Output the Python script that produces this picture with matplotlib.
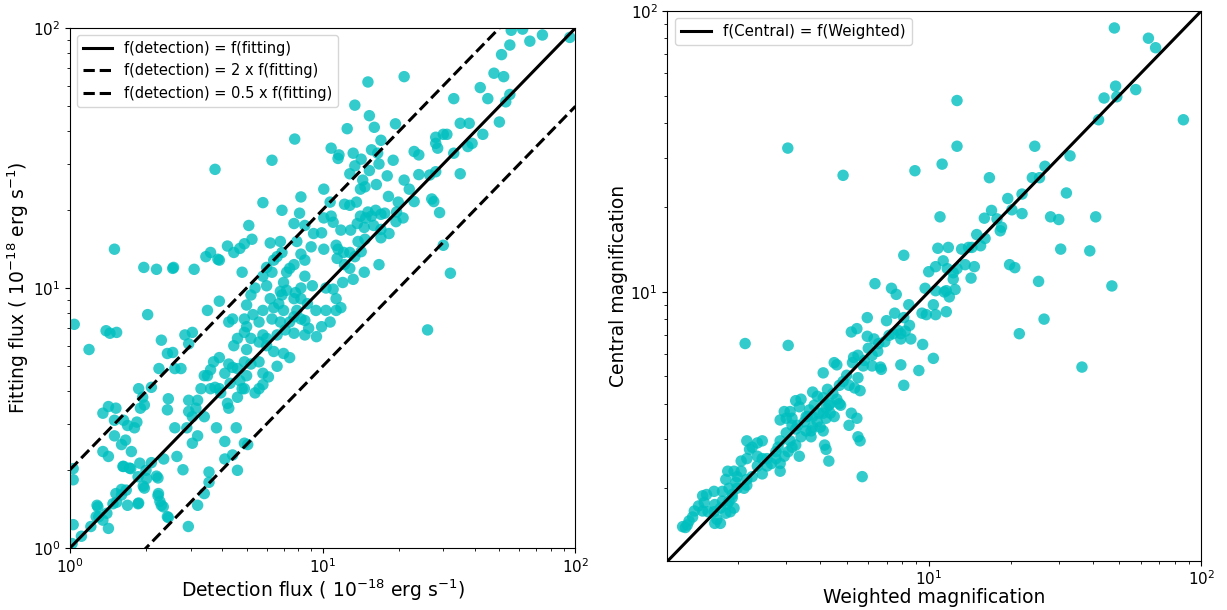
import matplotlib
matplotlib.use("Agg")
import matplotlib.pyplot as plt
import numpy as np

# ---------------- Left panel data: detection vs fitting flux ----------------
det_flux = [
    55.7, 61.8, 66, 74, 95, 55, 51, 47.6, 52, 42, 45, 33, 55, 53, 50, 43, 35, 38, 37.5, 39,
    35, 33, 30, 31, 28, 28.5, 28, 28, 27.5, 29, 26.5, 27, 24, 23, 24, 23, 22, 21, 21, 19.4,
    19, 18, 18.2, 17, 16, 15.3, 15.1, 16.7, 16.3, 15.3, 13.4, 12.5, 13.2, 13.4, 12.8, 14.2, 14.4, 14.1, 14.7, 15.1,
    15.6, 17, 17.6, 18.3, 17, 16.2, 19.6, 20.8, 19.5, 19.9, 10.8, 11.5, 10.1, 10.7, 10.8, 11, 12.2, 12.8, 13.6, 13.7,
    14.1, 14.8, 14.6, 15.9, 17, 14.7, 13.8, 12.9, 11.8, 11.5, 12.1, 12.8, 13.4, 14.2, 11.3, 11.4, 12.2, 16.7, 14.6, 13.2,
    12.8, 12, 11, 10.1, 9.9, 10.1, 10.3, 11.3, 11.8, 11.3, 10.7, 9.9, 10.3, 9.4, 9.45, 8.8, 8.5, 7.9, 7.7, 7.8,
    8.2, 8.7, 8.2, 8.5, 9.1, 7.2, 7.4, 7, 6.8, 7.2, 6.7, 6.4, 6.2, 6.3, 6.8, 6.6, 7.1, 7.7, 8.5, 8.2,
    7.7, 7.4, 7, 6.9, 6.3, 6, 6.9, 6.2, 6.9, 7.7, 8.1, 8.2, 6, 5.8, 5.6, 5.8, 5.3, 5, 4.9, 5,
    4.9, 5.2, 5.6, 6, 6.4, 6.6, 7, 7.4, 5, 4.9, 5.2, 5.6, 5.8, 6.1, 5.8, 5.6, 5.4, 5, 4.7, 4.9,
    4.6, 4.6, 4.4, 4.25, 4.1, 3.9, 3.7, 3.6, 3.5, 3.6, 3.9, 4.2, 4.25, 4.8, 3.95, 3.3, 3.4, 3.2, 3.15, 2.95,
    3.4, 3.05, 3.2, 3.05, 2.95, 2.9, 2.45, 2.43, 2.6, 2.8, 2.65, 2.35, 2.1, 2.0, 2.2, 2.23, 2.43, 2.23, 2.3, 2.94,
    3.2, 3.4, 3.55, 3.55, 3.8, 4.1, 4.1, 4.4, 4.6, 5.05, 4.9, 4.55, 4.3, 3.75, 4.45, 4.6, 4.4, 4.25, 3.9, 3.9,
    3.75, 3.5, 3.05, 2.85, 2.95, 2.55, 2.43, 2.3, 2.6, 2.75, 2.25, 2.1, 1.97, 1.9, 1.87, 1.94, 1.84, 1.8, 1.69, 1.66,
    1.75, 1.63, 1.72, 1.52, 1.42, 1.35, 1.5, 1.63, 1.6, 1.5, 1.35, 1.42, 1.52, 1.6, 1.69, 1.87, 1.97, 1.28, 1.3, 1.21,
    1.11, 1.03, 1.03, 1.03, 1.02, 1.42, 1.19, 1.04, 1.39, 1.44, 1.53, 1.5, 1.96, 2.2, 2.55, 2.57, 3.1, 2.03, 5.1, 3.85,
    4.2, 5.8, 6.3, 7.75, 26, 32, 30, 4.45, 4.7, 4.9, 5.25, 3.45, 3.6, 4.8, 5.2, 5.4, 5.8, 6, 6.4, 6.6,
    6.8, 8.5, 9.2, 9, 7.9, 8.2, 7.7, 8.5, 11.6, 15.6, 16.5, 1.27, 1.29, 1.4, 1.35, 1.48, 1.53, 1.6, 1.67, 1.86,
    1.62, 1.74, 1.89, 1.86, 2.01, 1.95, 2.24, 2.27, 2.34, 2.45,
]
fit_flux = [
    98, 99, 89, 94, 92, 86, 79, 67, 65, 59, 53.5, 53.5, 55.5, 52, 43.5, 39, 43, 43, 35, 36,
    27.5, 33, 39, 39, 38, 34.5, 36, 28, 21.5, 19.5, 27.2, 22, 27.3, 33.5, 32.5, 21.5, 24, 26, 65, 42.8,
    31, 27, 22.5, 37, 41.5, 46, 62, 30, 25, 28.3, 50.5, 41, 33, 29.5, 27.5, 31.3, 26, 24, 24.5, 19.6,
    18.9, 19.2, 19.4, 16.2, 16.8, 19.9, 19.6, 18.6, 18, 21.4, 34.5, 31.5, 24, 21.4, 18.9, 17.9, 21, 20.8, 21.4, 17.7,
    18.9, 18.6, 17.1, 17.4, 15.6, 15.4, 15.1, 16.7, 16.7, 14.1, 13.7, 13.7, 13.2, 13.8, 14.6, 13, 12.3, 12.3, 11.5, 10.8,
    11.9, 10.5, 9.9, 14.1, 16.3, 18.6, 10, 9.1, 8.4, 8.2, 7.4, 7.1, 8.2, 8.2, 6.5, 7, 7.5, 8.2, 9.1, 9.6,
    9.1, 8.7, 10, 11.1, 10.2, 11.5, 11.9, 10.5, 9.7, 9.8, 8.7, 8.4, 9.1, 7.6, 7.4, 6.6, 6.9, 6.7, 6.6, 7.6,
    7.75, 7.4, 8.2, 9.4, 11.5, 10.2, 13.7, 14.9, 19.9, 17.7, 19.4, 22.4, 6.4, 6.6, 7.4, 8.2, 7.9, 8.6, 7.6, 7.1,
    6.75, 6.4, 6.2, 6, 5.7, 5, 5.6, 5.4, 5.8, 5.2, 5.1, 5.2, 4.7, 4.55, 4.25, 4.1, 3.95, 4.6, 4.4, 4.1,
    3.8, 4.9, 4.95, 5.1, 4.7, 5.4, 5.2, 4.85, 4.6, 4.1, 4.1, 3.6, 3.45, 4.1, 3.95, 4.1, 4.6, 3.7, 3.45, 3.7,
    3.2, 3.2, 2.7, 2.53, 3.35, 2.9, 3.75, 3.4, 2.9, 2.0, 2.25, 2.2, 2.13, 1.99, 1.89, 1.86, 1.32, 1.59, 1.46, 1.21,
    1.46, 1.62, 1.79, 1.96, 2.9, 2.2, 2.57, 2.28, 1.99, 2.5, 2.53, 2.9, 4.3, 4.15, 6, 6.4, 7.6, 7.4, 8.9, 12.8,
    28.6, 8.2, 6.75, 6.6, 6.1, 5.65, 5.6, 6.3, 4.9, 4.9, 4.9, 4.15, 3.55, 3.45, 4.1, 3.8, 3.05, 2.9, 2.96, 2.6,
    2.35, 2.06, 2.03, 3.45, 3.5, 3.3, 3.1, 3.1, 2.5, 2.7, 2.35, 2.25, 1.62, 1.68, 1.46, 1.49, 1.7, 1.46, 1.32, 1.21,
    1.11, 1.23, 1.83, 2.02, 1.04, 1.19, 5.8, 7.25, 6.85, 6.7, 6.75, 14.1, 12, 11.8, 11.9, 12.0, 11.8, 7.9, 17.4, 12.9,
    14.5, 21.3, 31, 37.4, 6.9, 11.4, 14.6, 13.7, 14.2, 14.8, 15.4, 13.2, 13.7, 11.5, 9.4, 10, 11.1, 12, 12.8, 13.2,
    15.1, 17.4, 16.2, 14.4, 15.1, 13.5, 12.3, 12.8, 32.5, 34, 33, 1.32, 1.44, 1.36, 1.28, 1.48, 1.5, 1.6, 1.67, 1.48,
    2.06, 2.02, 2.12, 1.88, 1.85, 1.73, 1.62, 1.51, 1.44, 1.31,
]

# ---------------- Right panel data: weighted vs central magnification ----------------
weighted_mag = [
    48, 64, 68, 48.5, 44, 49, 57.5, 42, 86, 12.7, 12.7, 3.04, 4.85, 8.9, 11.2, 24.5, 33, 26.7, 25.5, 24,
    22, 19.5, 20.2, 22, 32, 16.7, 17, 16, 17.8, 18.5, 18.3, 28, 30, 41, 11, 15, 16.1, 15.5, 13.2, 14,
    14.4, 30.5, 39, 10.8, 11.8, 8.1, 13.6, 14.7, 14.3, 19.8, 20.7, 25.3, 47, 26.5, 21.5, 36.5, 10, 10.6, 11.3, 11.7,
    12.3, 11.6, 12.5, 10.6, 9.7, 10.4, 9.8, 10.6, 11.6, 10.4, 9.5, 9.2, 8.1, 7.9, 8.6, 7.9, 8.2, 8.5, 7.7, 7.5,
    7, 7.3, 7.6, 6.35, 6.9, 7.15, 7.4, 6.55, 6.3, 5.95, 5.95, 5.45, 5.2, 6.0, 6.2, 5.8, 6.5, 6.65, 6.7, 6.2,
    5.5, 5.3, 5.25, 5.75, 5.5, 5, 4.85, 4.7, 5.1, 5.35, 5.6, 5.2, 5.45, 5.1, 5.5, 5.6, 5.7, 4.5, 4.1, 4.25,
    4.45, 4.6, 4.1, 4.3, 4.2, 4.1, 3.8, 3.75, 3.9, 3.65, 3.6, 3.75, 3.9, 3.95, 4.7, 4.35, 4.35, 4.75, 4.5, 4.2,
    4.0, 4.1, 3.75, 3.7, 3.7, 4.15, 4.2, 4.3, 3.4, 3.25, 3.35, 3.55, 3.5, 3.3, 3.55, 3.25, 3.4, 3.15, 3.0, 2.85,
    2.95, 3.1, 3.15, 3.0, 3.1, 3.15, 3.25, 3.35, 3.05, 2.95, 2.85, 2.8, 2.75, 2.75, 2.85, 2.85, 2.65, 2.55, 2.55, 2.45,
    2.35, 2.25, 2.2, 2.35, 2.45, 2.35, 2.45, 2.25, 2.15, 2.05, 2.05, 2.15, 2.15, 2.1, 1.98, 1.98, 1.96, 1.9, 1.85, 1.93,
    1.83, 1.8, 1.75, 1.85, 1.9, 1.82, 1.93, 1.87, 1.75, 1.72, 1.8, 1.67, 1.72, 1.64, 1.63, 1.55, 1.64, 1.53, 1.63, 1.48,
    1.5, 1.43, 1.48, 1.38, 1.36, 1.32, 1.3, 1.25, 1.28, 2.12, 3.05, 8.45, 8.1, 7.9, 9.45, 12.7, 12.3, 11.4, 11.9, 4.6,
    2.15,
]
central_mag = [
    87, 80, 74, 54, 49, 49.5, 52.5, 41, 41, 48, 33, 32.5, 26, 27, 28.5, 33, 30.5, 28, 25.5, 25.5,
    22.3, 21.5, 19.6, 19, 22.5, 25.5, 19.5, 18.3, 18.2, 17, 16.5, 18.5, 18.1, 18.5, 18.5, 16, 15.5, 14.6, 14.2, 14.4,
    14.4, 14.2, 14, 14.3, 14.4, 13.5, 12.5, 12.3, 11.2, 12.5, 12.2, 10.9, 10.5, 8.0, 7.1, 5.4, 11.8, 12.3, 12.9, 12.1,
    11.7, 10.1, 10.2, 10.1, 10.3, 9.0, 8.3, 8.3, 8.5, 5.8, 6.5, 5.25, 4.65, 5.5, 6.8, 7.1, 7.25, 7.6, 7.3, 8.4,
    7.9, 10.3, 9.8, 10.7, 6.65, 7.0, 7.1, 6.55, 6.8, 8.1, 6.95, 7.4, 7.2, 6.3, 5.95, 5.7, 6.15, 5.4, 5.3, 5.45,
    5.95, 5.85, 5.6, 5.45, 4.95, 5.05, 4.8, 4.65, 4.65, 4.55, 4.45, 3.7, 3.55, 3.35, 3.05, 2.95, 2.2, 5.6, 5.15, 4.5,
    4.35, 4.15, 4.2, 3.95, 3.85, 3.7, 3.95, 4.4, 4.25, 3.8, 3.6, 3.6, 3.45, 3.7, 4.0, 4.0, 3.7, 3.95, 3.6, 3.55,
    3.3, 3.2, 3.3, 3.2, 3.05, 2.85, 2.75, 2.5, 4.15, 4.1, 3.9, 3.6, 3.45, 3.35, 3.2, 3.25, 3.05, 3.35, 3.55, 3.5,
    3.75, 3.75, 3.55, 3.15, 2.95, 2.8, 2.85, 2.6, 2.7, 2.6, 2.95, 2.8, 2.7, 2.55, 2.45, 2.3, 2.45, 2.55, 2.4, 2.95,
    2.9, 2.8, 2.75, 2.6, 2.55, 2.4, 2.25, 2.2, 2.55, 2.5, 2.3, 2.15, 2.05, 2.0, 2.2, 2.0, 2.1, 1.9, 2.0, 2.3,
    2.3, 2.15, 1.95, 1.8, 1.85, 1.75, 1.7, 1.65, 1.8, 1.7, 1.63, 1.55, 1.5, 1.5, 1.65, 1.65, 1.75, 1.9, 1.95, 1.88,
    1.78, 1.73, 1.66, 1.66, 1.58, 1.53, 1.48, 1.46, 1.45, 6.55, 6.45, 9.0, 8.1, 6.8, 8.4, 12.1, 11.1, 10.0, 9.6, 5.5,
    2.95,
]

one_to_one = [1, 100]
left_labels = ["f(detection) = f(fitting)",
               "f(detection) = 2 x f(fitting)",
               "f(detection) = 0.5 x f(fitting)"]
right_label = "f(Central) = f(Weighted)"

pt_color = "c"

fig = plt.figure(figsize=(12.27, 6.10), dpi=100)
ax1 = fig.add_axes([0.057, 0.1016, 0.412, 0.8525])
ax2 = fig.add_axes([0.544, 0.080, 0.435, 0.902])

# Left panel
ax1.scatter(det_flux, fit_flux, s=68, color=pt_color, alpha=0.8, edgecolors="none", zorder=2)
xl = np.array(one_to_one, dtype=float)
ax1.plot(xl, xl, "k-", lw=2.2, label=left_labels[0], zorder=3)
ax1.plot(xl, 2 * xl, "k--", lw=2.2, label=left_labels[1], zorder=3)
ax1.plot(xl, 0.5 * xl, "k--", lw=2.2, label=left_labels[2], zorder=3)
ax1.set_xscale("log")
ax1.set_yscale("log")
ax1.set_xlim(1, 100)
ax1.set_ylim(1, 100)
ax1.set_xlabel(r"Detection flux ( $10^{-18}$ erg s$^{-1}$)", fontsize=13.5, labelpad=1)
ax1.set_ylabel(r"Fitting flux ( $10^{-18}$ erg s$^{-1}$)", fontsize=13.5, labelpad=1)
ax1.tick_params(labelsize=11)
ax1.legend(loc="upper left", fontsize=10.5)

# Right panel
ax2.scatter(weighted_mag, central_mag, s=68, color=pt_color, alpha=0.8, edgecolors="none", zorder=2)
ax2.plot(xl, xl, "k-", lw=2.2, label=right_label, zorder=3)
ax2.set_xscale("log")
ax2.set_yscale("log")
ax2.set_xlim(1.1, 100)
ax2.set_ylim(1.1, 100)
ax2.set_xlabel("Weighted magnification", fontsize=13.5, labelpad=0)
ax2.set_ylabel("Central magnification", fontsize=13.5, labelpad=2)
ax2.tick_params(labelsize=11)
ax2.tick_params(axis="x", pad=2)
ax2.legend(loc="upper left", fontsize=10.8)

fig.savefig("out.png", dpi=100)
